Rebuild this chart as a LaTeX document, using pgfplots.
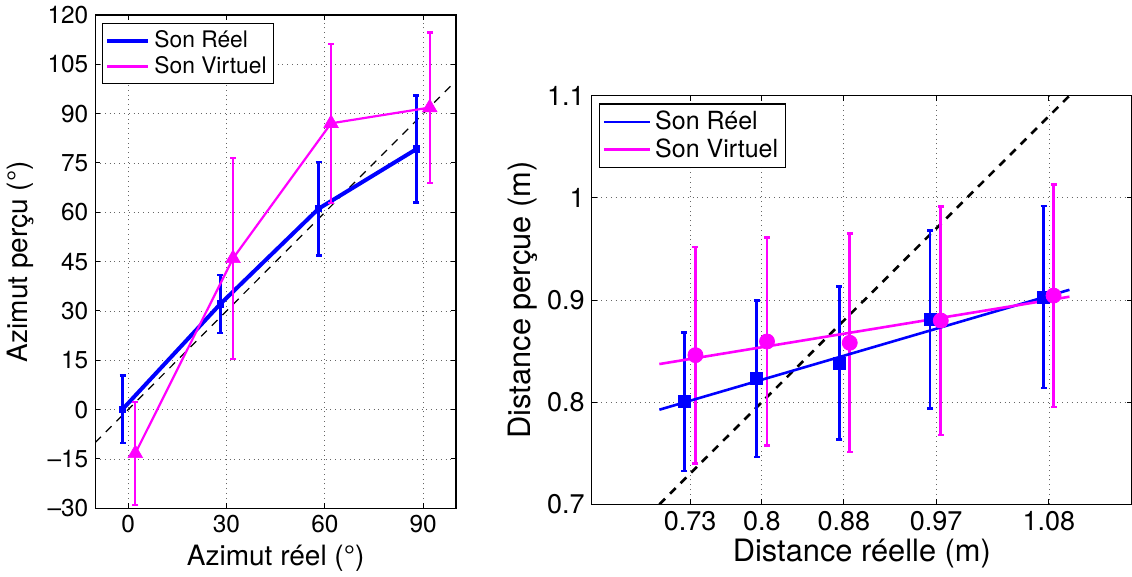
\documentclass[border=0pt]{standalone}
\usepackage{pgfplots}
\pgfplotsset{compat=1.18}
\usepackage{fontspec}
\setmainfont{TeX Gyre Heros}
\definecolor{mblue}{RGB}{0,0,255}
\definecolor{mmag}{RGB}{255,0,255}
\pgfplotsset{
  mstyle/.style={
    scale only axis,
    axis line style={line width=0.6pt},
    tick style={black, line width=0.5pt},
    major tick length=2.5pt,
    tick align=inside,
    xtick pos=both, ytick pos=both,
    grid=major,
    major grid style={dotted, black!60, line width=0.45pt},
    /pgf/number format/assume math mode=true,
    legend style={draw=black, line width=0.6pt, inner sep=1.5pt, row sep=-1pt},
    legend cell align=left,
  }
}
\begin{document}
\begin{tikzpicture}
\useasboundingbox (0,0) rectangle (566pt,-288.5pt);
% ---------------- left axis ----------------
\begin{axis}[mstyle,
  at={(47.65pt,-254.15pt)}, anchor=south west,
  width=180.35pt, height=246.65pt,
  tick label style={font=\fontsize{12.2}{14}\selectfont},
  label style={font=\fontsize{14}{16}\selectfont},
  legend style={font=\fontsize{11.4}{13.5}\selectfont},
  xmin=-10, xmax=100, ymin=-30, ymax=120,
  xtick={0,30,60,90},
  ytick={-30,-15,0,15,30,45,60,75,90,105,120},
  yticklabels={{\textendash30},{\textendash15},0,15,30,45,60,75,90,105,120},
  xlabel={Azimut réel (°)},
  ylabel={Azimut perçu (°)},
  xlabel style={yshift=1pt},
  legend style={at={(0.018,0.984)}, anchor=north west},
  legend image code/.code={\draw[#1] (0pt,0pt) -- (20.5pt,0pt);},
]
\addplot[black, line width=0.6pt, dash pattern=on 4pt off 3.5pt, forget plot] coordinates {(-10,-10) (100,100)};
\addplot[forget plot, mblue, line width=2pt, mark=square*, mark size=1.6pt, mark options={solid, line width=0.5pt},
  error bars/.cd, y dir=both, y explicit,
  error bar style={line width=1.3pt, mblue},
  error mark options={mblue, line width=1.3pt, mark size=1.5pt, rotate=90}]
  coordinates {(-1.7,0.1) +- (0,10.2) (28.1,32.1) +- (0,8.8) (58.1,61.1) +- (0,14.2) (87.9,79.2) +- (0,16.3)};
\addplot[forget plot, mmag, line width=1.1pt, mark=triangle*, mark size=4.2pt, mark options={solid, line width=0.3pt},
  error bars/.cd, y dir=both, y explicit,
  error bar style={line width=1.1pt, mmag},
  error mark options={mmag, line width=1.1pt, mark size=1.5pt, rotate=90}]
  coordinates {(2.2,-13.3) +- (0,15.6) (32.0,46.0) +- (0,30.6) (61.9,87.06) +- (0,24.2) (92.0,91.85) +- (0,22.85)};
\addlegendimage{mblue, line width=2pt}
\addlegendentry{Son Réel}
\addlegendimage{mmag, line width=1.1pt}
\addlegendentry{Son Virtuel}
\end{axis}
% ---------------- right axis ----------------
\begin{axis}[mstyle,
  at={(295.85pt,-252.15pt)}, anchor=south west,
  width=270.15pt, height=204.3pt,
  tick label style={font=\fontsize{13.5}{15}\selectfont},
  label style={font=\fontsize{15.4}{18}\selectfont},
  legend style={font=\fontsize{12.5}{15}\selectfont},
  xmin=0.634, xmax=1.161, ymin=0.7, ymax=1.1,
  xtick={0.73,0.8,0.88,0.97,1.08},
  xticklabels={0.73,0.8,0.88,0.97,1.08},
  ytick={0.7,0.8,0.9,1.0,1.1},
  yticklabels={0.7,0.8,0.9,1,1.1},
  xlabel={Distance réelle (m)},
  ylabel={Distance perçue (m)},
  xlabel style={yshift=3pt},
  ylabel style={yshift=-2pt},
  legend style={at={(0.0135,0.981)}, anchor=north west},
  legend image code/.code={\draw[#1] (0pt,0pt) -- (23pt,0pt);},
]
\addplot[black, line width=1.3pt, dash pattern=on 4pt off 3.5pt, forget plot] coordinates {(0.7,0.7) (1.1,1.1)};
\addplot[forget plot, only marks, mblue, mark=square*, mark size=3pt,
  error bars/.cd, y dir=both, y explicit,
  error bar style={line width=1.3pt, mblue},
  error mark options={mblue, line width=1.3pt, mark size=1.5pt, rotate=90}]
  coordinates {(0.7244,0.8005) +- (0,0.0679) (0.795,0.823) +- (0,0.0766) (0.8756,0.8383) +- (0,0.0747) (0.964,0.8809) +- (0,0.0869) (1.0747,0.903) +- (0,0.089)};
\addplot[forget plot, only marks, mmag, mark=*, mark size=3.75pt,
  error bars/.cd, y dir=both, y explicit,
  error bar style={line width=1.3pt, mmag},
  error mark options={mmag, line width=1.3pt, mark size=1.5pt, rotate=90}]
  coordinates {(0.7352,0.846) +- (0,0.106) (0.805,0.8594) +- (0,0.1016) (0.8857,0.8581) +- (0,0.107) (0.9745,0.8799) +- (0,0.1119) (1.0845,0.9043) +- (0,0.109)};
\addplot[mblue, line width=1.3pt] coordinates {(0.70,0.7926) (1.10,0.910)};
\addlegendentry{Son Réel}
\addplot[mmag, line width=1.3pt] coordinates {(0.70,0.8373) (1.10,0.9032)};
\addlegendentry{Son Virtuel}
\end{axis}
\end{tikzpicture}
\end{document}
